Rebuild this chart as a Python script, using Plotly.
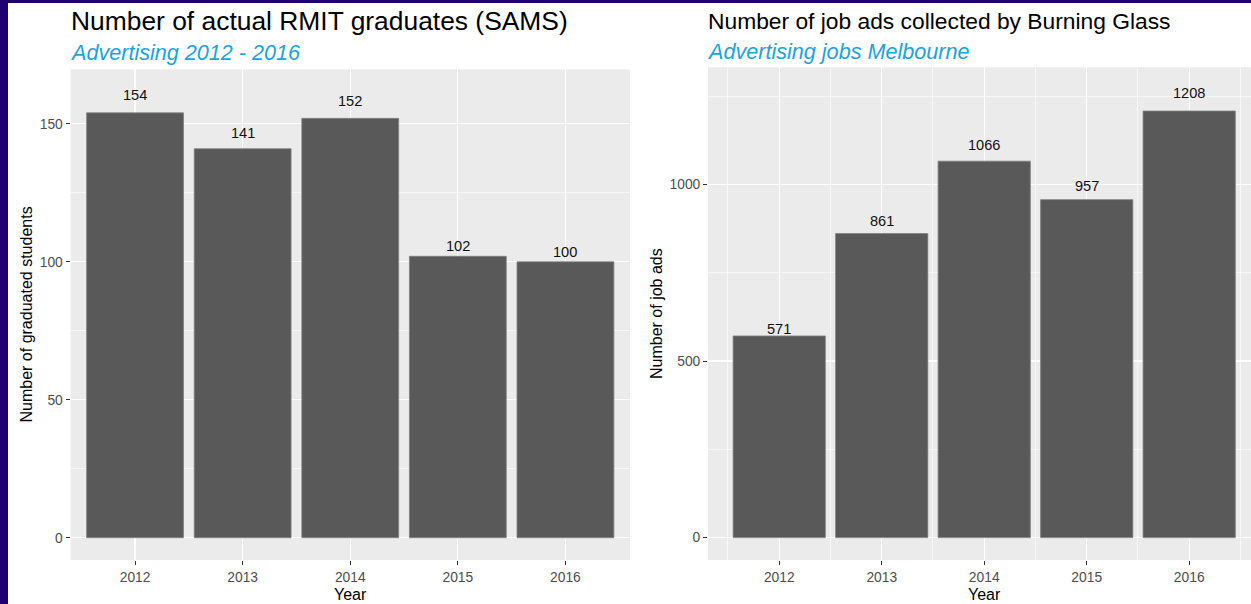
import plotly.graph_objects as go

W, H = 1251, 604

years = ["2012", "2013", "2014", "2015", "2016"]
year_nums = [2012, 2013, 2014, 2015, 2016]
graduates = [154, 141, 152, 102, 100]
job_ads = [571, 861, 1066, 957, 1208]

left_title = "Number of actual RMIT graduates (SAMS)"
left_subtitle = "Advertising 2012 - 2016"
right_title = "Number of job ads collected by Burning Glass"
right_subtitle = "Advertising jobs Melbourne"
x_title = "Year"
left_y_title = "Number of graduated students"
right_y_title = "Number of job ads"

FONT = "Liberation Sans, Arial, sans-serif"
BAR = "#595959"
PANEL = "#EBEBEB"
SUB = "#1BA3DD"


def px(x):
    return x / W


def py(y):
    return 1 - y / H


fig = go.Figure()

# left panel (discrete x)
fig.add_trace(go.Bar(x=years, y=graduates, width=0.9, marker=dict(color=BAR, line=dict(color="#7f7f7f", width=0.8)),
                     xaxis="x", yaxis="y", showlegend=False, hoverinfo="skip"))

# right panel (continuous x)
fig.add_trace(go.Bar(x=year_nums, y=job_ads, width=0.9, marker=dict(color=BAR, line=dict(color="#7f7f7f", width=0.8)),
                     xaxis="x2", yaxis="y2", showlegend=False, hoverinfo="skip"))

gmax_l = max(graduates) * 1.05
gmax_r = max(job_ads) * 1.05

tickfont = dict(family=FONT, size=13.8, color="#4D4D4D")
common_axis = dict(showline=False, ticks="outside", ticklen=4, tickwidth=1, tickcolor="#333333",
                   gridcolor="white", gridwidth=1.2, tickfont=tickfont, zeroline=False, fixedrange=True)

fig.update_layout(
    width=W, height=H,
    margin=dict(l=0, r=0, t=0, b=0, pad=0),
    paper_bgcolor="white",
    plot_bgcolor=PANEL,
    bargap=0,
    xaxis=dict(domain=[px(70.5), px(630)], type="category", range=[-0.6, 4.6], anchor="y", **common_axis),
    yaxis=dict(domain=[1 - 560 / H, 1 - 69.3 / H], range=[-0.05 * gmax_l, 1.05 * gmax_l], anchor="x",
               tickmode="linear", tick0=0, dtick=50,
               minor=dict(tickmode="linear", tick0=0, dtick=25, showgrid=True, gridcolor="white", gridwidth=0.6, ticks=""),
               **common_axis),
    xaxis2=dict(domain=[px(708), 1.0], range=[2011.305, 2016.603], anchor="y2",
                tickmode="linear", tick0=2012, dtick=1,
                minor=dict(tickmode="linear", tick0=2011.5, dtick=1, showgrid=True, gridcolor="white", gridwidth=0.6, ticks=""),
                **common_axis),
    yaxis2=dict(domain=[1 - 560 / H, 1 - 67.3 / H], range=[-0.05 * gmax_r, 1.05 * gmax_r], anchor="x2",
                tickmode="linear", tick0=0, dtick=500,
                minor=dict(tickmode="linear", tick0=0, dtick=250, showgrid=True, gridcolor="white", gridwidth=0.6, ticks=""),
                **common_axis),
)

ann = []
# value labels
for i, v in enumerate(graduates):
    ann.append(dict(text=str(v), x=i, y=v * 1.05, xref="x", yref="y", xanchor="center", yanchor="middle",
                    yshift=-3.5, font=dict(family=FONT, size=14.6, color="#111111")))
for yr, v in zip(year_nums, job_ads):
    ann.append(dict(text=str(v), x=yr, y=v * 1.05, xref="x2", yref="y2", xanchor="center", yanchor="middle",
                    yshift=-3, font=dict(family=FONT, size=14.6, color="#111111")))

P = []
P.append(dict(text=left_title, x=px(69), y=py(21.5), xanchor="left", yanchor="middle",
              font=dict(family=FONT, size=26.4, color="black")))
P.append(dict(text="<i>" + left_subtitle + "</i>", x=px(68), y=py(53), xanchor="left", yanchor="middle",
              font=dict(family=FONT, size=21.6, color=SUB)))
P.append(dict(text=right_title, x=px(706), y=py(21), xanchor="left", yanchor="middle",
              font=dict(family=FONT, size=22.8, color="black")))
P.append(dict(text="<i>" + right_subtitle + "</i>", x=px(705), y=py(51), xanchor="left", yanchor="middle",
              font=dict(family=FONT, size=21.6, color=SUB)))
P.append(dict(text=x_title, x=px(350), y=py(594), xanchor="center", yanchor="middle",
              font=dict(family=FONT, size=16, color="black")))
P.append(dict(text=x_title, x=px(984), y=py(594), xanchor="center", yanchor="middle",
              font=dict(family=FONT, size=16, color="black")))
P.append(dict(text=left_y_title, x=px(26), y=py(314.5), xanchor="center", yanchor="middle", textangle=-90,
              font=dict(family=FONT, size=16, color="black")))
P.append(dict(text=right_y_title, x=px(656), y=py(314), xanchor="center", yanchor="middle", textangle=-90,
              font=dict(family=FONT, size=16, color="black")))
for a in P:
    a.update(xref="paper", yref="paper")
ann += P
for a in ann:
    a.update(showarrow=False)
fig.update_layout(annotations=ann)

fig.update_layout(shapes=[
    dict(type="rect", xref="paper", yref="paper", x0=0, x1=px(8), y0=0, y1=1,
         fillcolor="#1F0070", line=dict(width=0), layer="above"),
    dict(type="rect", xref="paper", yref="paper", x0=0, x1=1, y0=py(3), y1=1,
         fillcolor="#1F0070", line=dict(width=0), layer="above"),
])

fig.write_html("out.html", config={"displayModeBar": False, "staticPlot": True},
               post_script="document.body.style.margin='0px';document.body.style.overflow='hidden';")
